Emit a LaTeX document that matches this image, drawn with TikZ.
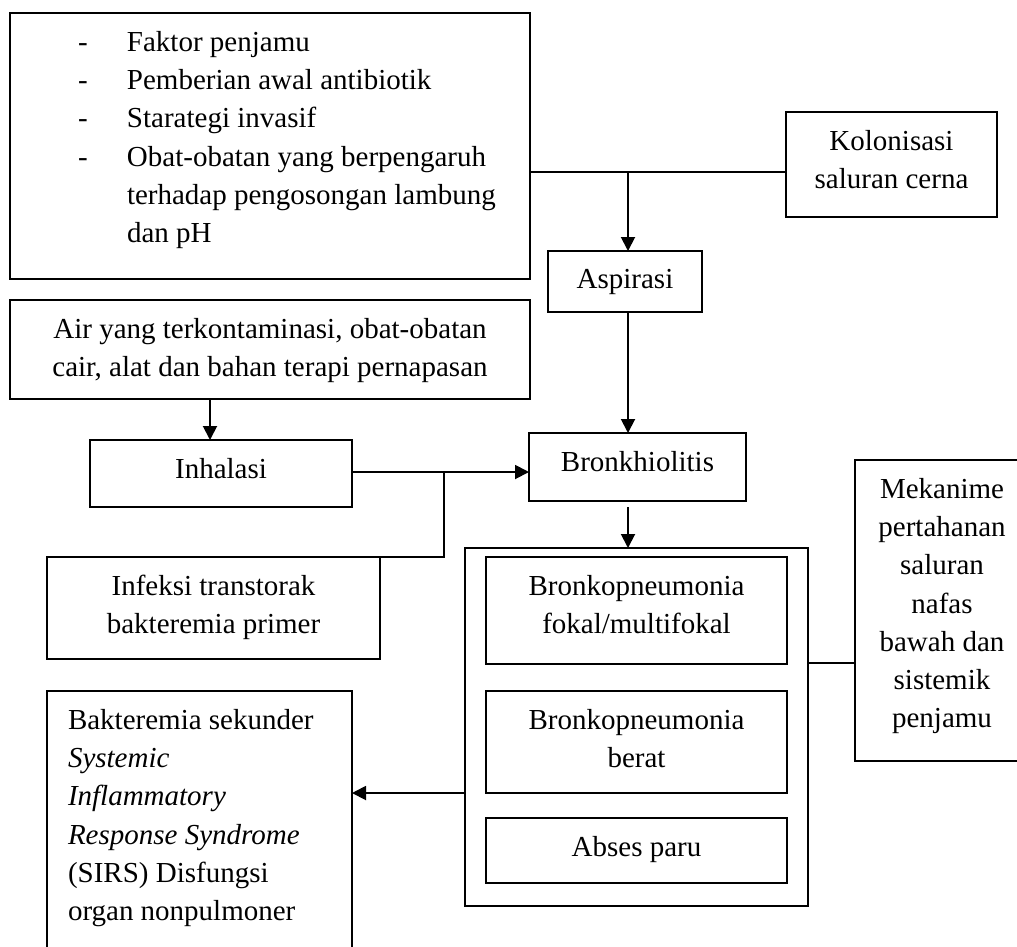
\documentclass[tikz,border=0pt]{standalone}
\usepackage{fontspec}
\setmainfont{Liberation Serif}
\usetikzlibrary{arrows.meta}
\begin{document}
\begin{tikzpicture}[x=1pt,y=-1pt,
  box/.style={draw, line width=1.9pt, inner sep=0pt, outer sep=0pt},
  txt/.style={inner sep=0pt, outer sep=0pt, align=center, anchor=north, font=\fontsize{29}{38.3}\selectfont},
  arr/.style={line width=1.9pt, -{Triangle[length=14pt,width=14pt]}},
  ln/.style={line width=1.9pt}]
\useasboundingbox (0,0) rectangle (1017,946);
\clip (0,0) rectangle (1017,946);
% boxes
\node[box, minimum width=520pt, minimum height=266pt] (top) at (270,146) {};
\node[box, minimum width=211pt, minimum height=105pt] (kol) at (891.5,164.5) {};
\node[box, minimum width=154pt, minimum height=61pt] (asp) at (625,281.5) {};
\node[box, minimum width=520pt, minimum height=99pt] (air) at (270,349.5) {};
\node[box, minimum width=262pt, minimum height=67pt] (inh) at (221,473.5) {};
\node[box, minimum width=217pt, minimum height=68pt] (bron) at (637.5,467) {};
\node[box, minimum width=333pt, minimum height=102pt] (inf) at (213.5,608) {};
\node[box, minimum width=343pt, minimum height=358pt] (cont) at (636.5,727) {};
\node[box, minimum width=301pt, minimum height=107pt] (b1) at (636.5,610.5) {};
\node[box, minimum width=301pt, minimum height=102pt] (b2) at (636.5,742) {};
\node[box, minimum width=301pt, minimum height=65pt] (b3) at (636.5,850.5) {};
\node[box, minimum width=174pt, minimum height=301pt] (mek) at (942,610.5) {};
\node[box, minimum width=305pt, minimum height=269pt] (bak) at (199.5,825.5) {};
% texts
\node[txt, anchor=north west, align=left] (topT) at (78,31)
  {\makebox[49pt][l]{-}Faktor penjamu\\
   \makebox[49pt][l]{-}Pemberian awal antibiotik\\
   \makebox[49pt][l]{-}Starategi invasif\\
   \makebox[49pt][l]{-}Obat-obatan yang berpengaruh\\
   \makebox[49pt][l]{}terhadap pengosongan lambung\\
   \makebox[49pt][l]{}dan pH};
\node[txt] (kolT) at (891.5,130) {Kolonisasi\\saluran cerna};
\node[txt] (aspT) at (625,269) {Aspirasi};
\node[txt] (airT) at (270,318) {Air yang terkontaminasi, obat-obatan\\cair, alat dan bahan terapi pernapasan};
\node[txt] (inhT) at (221,458) {Inhalasi};
\node[txt] (bronT) at (637.5,451) {Bronkhiolitis};
\node[txt] (infT) at (213.5,575) {Infeksi transtorak\\bakteremia primer};
\node[txt] (b1T) at (636.5,575) {Bronkopneumonia\\fokal/multifokal};
\node[txt] (b2T) at (636.5,709) {Bronkopneumonia\\berat};
\node[txt] (b3T) at (636.5,836) {Abses paru};
\node[txt] (mekT) at (942,478) {Mekanime\\pertahanan\\saluran\\nafas\\bawah dan\\sistemik\\penjamu};
\node[txt, anchor=north west, align=left] (bakT) at (68,709)
  {Bakteremia sekunder\\\textit{Systemic}\\\textit{Inflammatory}\\\textit{Response Syndrome}\\(SIRS) Disfungsi\\organ nonpulmoner};
% connectors
\coordinate (j1) at (628,172);
\draw[ln] (top.east |- j1) -- (kol.west |- j1);
\draw[arr] (j1) -- (asp.north -| j1);
\draw[arr] (asp.south -| j1) -- (bron.north -| j1);
\coordinate (j2) at (210,420);
\draw[arr] (air.south -| j2) -- (inh.north -| j2);
\coordinate (j3) at (444,472);
\draw[arr] (inh.east |- j3) -- (bron.west |- j3);
\draw[ln] (j3) -- (j3 |- inf.north) -- (inf.north east);
\draw[arr, shorten <=6pt] (bron.south -| j1) -- (cont.north -| j1);
\coordinate (j4) at (830,663);
\draw[ln] (cont.east |- j4) -- (mek.west |- j4);
\coordinate (j5) at (400,793);
\draw[arr] (cont.west |- j5) -- (bak.east |- j5);
\end{tikzpicture}
\end{document}
